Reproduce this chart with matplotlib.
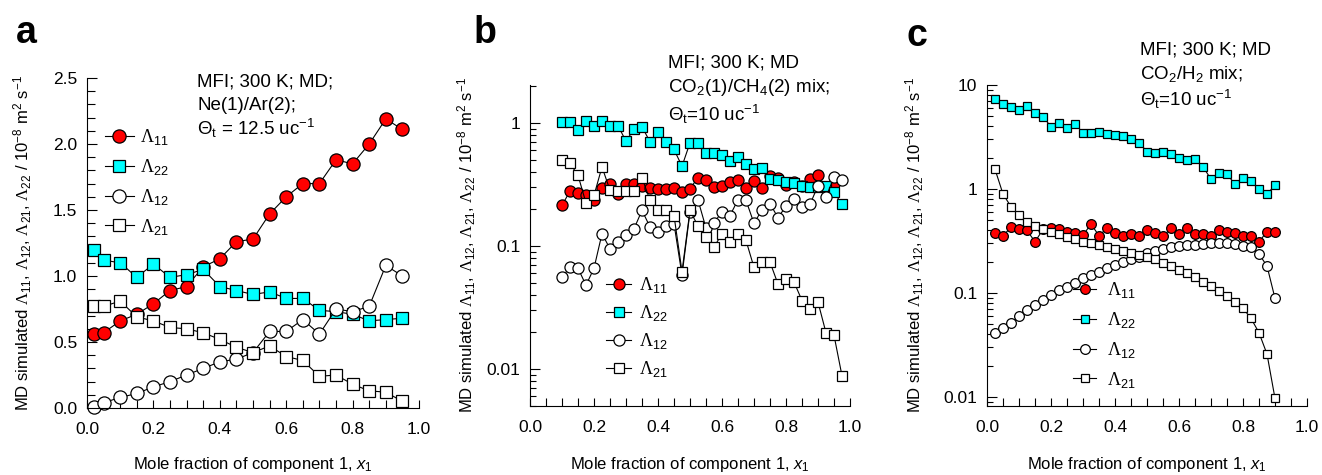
import numpy as np
import matplotlib
matplotlib.use("Agg")
import matplotlib.pyplot as plt
from matplotlib.ticker import MultipleLocator, LogLocator, NullFormatter, FuncFormatter

plt.rcParams['font.family'] = ['Liberation Sans', 'DejaVu Sans']
plt.rcParams['mathtext.fontset'] = 'custom'
plt.rcParams['mathtext.rm'] = 'Liberation Sans'
plt.rcParams['mathtext.it'] = 'Liberation Sans:italic'
plt.rcParams['mathtext.sf'] = 'Liberation Serif'

# ---- panel a: Ne(1)/Ar(2), linear scale
xa = [0.02, 0.05, 0.1, 0.15, 0.2, 0.25, 0.3, 0.35, 0.4, 0.45,
      0.5, 0.55, 0.6, 0.65, 0.7, 0.75, 0.8, 0.85, 0.9, 0.95]
a_L11 = [0.56, 0.57, 0.66, 0.71, 0.79, 0.89, 0.92, 1.07, 1.13, 1.26,
         1.28, 1.47, 1.60, 1.70, 1.70, 1.88, 1.85, 2.00, 2.19, 2.11]
a_L22 = [1.20, 1.12, 1.10, 0.99, 1.09, 0.99, 1.01, 1.05, 0.92, 0.89,
         0.86, 0.88, 0.83, 0.83, 0.74, 0.73, 0.71, 0.66, 0.67, 0.68]
a_L12 = [0.01, 0.04, 0.08, 0.11, 0.16, 0.20, 0.25, 0.30, 0.35, 0.37,
         0.42, 0.58, 0.58, 0.67, 0.56, 0.75, 0.73, 0.77, 1.08, 1.00]
a_L21 = [0.77, 0.77, 0.81, 0.69, 0.66, 0.61, 0.60, 0.57, 0.52, 0.46,
         0.42, 0.47, 0.39, 0.36, 0.24, 0.25, 0.18, 0.13, 0.12, 0.05]

# ---- panel b: CO2(1)/CH4(2), log scale
xb = [0.1, 0.125, 0.15, 0.175, 0.2, 0.225, 0.25, 0.275, 0.3, 0.325,
      0.35, 0.375, 0.4, 0.425, 0.45, 0.475, 0.5, 0.525, 0.55, 0.575,
      0.6, 0.625, 0.65, 0.675, 0.7, 0.725, 0.75, 0.775, 0.8, 0.825,
      0.85, 0.875, 0.9, 0.925, 0.95, 0.975]
b_L11 = [0.214, 0.28, 0.272, 0.258, 0.238, 0.299, 0.322, 0.267, 0.322, 0.322,
         0.306, 0.299, 0.293, 0.293, 0.299, 0.275, 0.293, 0.36, 0.347, 0.302,
         0.306, 0.332, 0.343, 0.299, 0.338, 0.299, 0.369, 0.36, 0.312, 0.33,
         0.31, 0.353, 0.376, 0.30, 0.318]
b_L22 = [1.025, 1.025, 0.877, 1.044, 0.951, 1.038, 0.951, 0.951, 0.713, 0.893,
         0.933, 0.704, 0.849, 0.704, 0.610, 0.446, 0.691, 0.691, 0.573, 0.573,
         0.555, 0.493, 0.525, 0.469, 0.427, 0.435, 0.353, 0.347, 0.332, 0.325,
         0.306, 0.302, 0.302, 0.306, 0.275, 0.218]
b_L12 = [0.056, 0.067, 0.066, 0.048, 0.066, 0.126, 0.095, 0.107, 0.122, 0.138,
         0.195, 0.143, 0.130, 0.145, 0.152, 0.058, 0.190, 0.237, 0.140, 0.155,
         0.189, 0.177, 0.238, 0.235, 0.153, 0.197, 0.221, 0.170, 0.211, 0.242,
         0.208, 0.218, 0.310, 0.250, 0.364, 0.347]
b_L21 = [0.505, 0.47, 0.376, 0.224, 0.258, 0.44, 0.284, 0.28, 0.28, 0.28,
         0.36, 0.235, 0.195, 0.195, 0.177, 0.062, 0.195, 0.145, 0.118, 0.098,
         0.126, 0.107, 0.126, 0.111, 0.067, 0.074, 0.074, 0.049, 0.054, 0.051,
         0.036, 0.031, 0.035, 0.0197, 0.0188, 0.0088]

# ---- panel c: CO2/H2, log scale
xc = [0.025, 0.05, 0.075, 0.1, 0.125, 0.15, 0.175, 0.2, 0.225, 0.25,
      0.275, 0.3, 0.325, 0.35, 0.375, 0.4, 0.425, 0.45, 0.475, 0.5,
      0.525, 0.55, 0.575, 0.6, 0.625, 0.65, 0.675, 0.7, 0.725, 0.75,
      0.775, 0.8, 0.825, 0.85, 0.875, 0.9]
c_L11 = [0.375, 0.356, 0.428, 0.409, 0.40, 0.311, 0.409, 0.419, 0.409, 0.389,
         0.38, 0.36, 0.46, 0.356, 0.419, 0.38, 0.356, 0.366, 0.35, 0.40,
         0.38, 0.35, 0.419, 0.37, 0.419, 0.37, 0.367, 0.35, 0.40, 0.389,
         0.38, 0.354, 0.35, 0.311, 0.389, 0.389]
c_L22 = [7.28, 6.56, 6.10, 5.75, 6.28, 5.35, 4.96, 3.97, 4.34, 3.83,
         4.22, 3.48, 3.43, 3.56, 3.38, 3.30, 3.23, 3.00, 2.79, 2.29,
         2.23, 2.29, 2.17, 1.97, 1.90, 1.93, 1.64, 1.24, 1.44, 1.38,
         1.12, 1.27, 1.20, 0.99, 0.89, 1.09]
c_L12 = [0.041, 0.0457, 0.0518, 0.060, 0.0687, 0.0767, 0.0858, 0.0957, 0.107, 0.115,
         0.126, 0.138, 0.149, 0.160, 0.173, 0.186, 0.200, 0.211, 0.224, 0.241,
         0.255, 0.263, 0.275, 0.283, 0.290, 0.290, 0.296, 0.300, 0.300, 0.300,
         0.296, 0.283, 0.275, 0.237, 0.182, 0.089]
c_L21 = [1.55, 0.895, 0.676, 0.562, 0.485, 0.441, 0.409, 0.389, 0.369, 0.343,
         0.328, 0.311, 0.300, 0.290, 0.275, 0.263, 0.255, 0.244, 0.232, 0.220,
         0.211, 0.195, 0.182, 0.166, 0.155, 0.144, 0.129, 0.117, 0.105, 0.0935,
         0.0826, 0.0713, 0.0571, 0.0415, 0.0259, 0.0097]

labels = [r'$\mathsf{\Lambda}_{11}$', r'$\mathsf{\Lambda}_{22}$',
          r'$\mathsf{\Lambda}_{12}$', r'$\mathsf{\Lambda}_{21}$']
styles = [('o', 'red'), ('s', 'cyan'), ('o', 'white'), ('s', 'white')]

ylab = (r'MD simulated $\mathsf{\Lambda}_{11}$, $\mathsf{\Lambda}_{12}$, '
        r'$\mathsf{\Lambda}_{21}$, $\mathsf{\Lambda}_{22}$ / 10$^{-8}$ m$^{2}$ s$^{-1}$')
xlab = r'Mole fraction of component 1, $x_{1}$'

W, H = 1322, 475
fig = plt.figure(figsize=(W / 100, H / 100), dpi=100)


def box(l, t, r, b):
    return [l / W, 1 - b / H, (r - l) / W, (b - t) / H]


def panel(ax, x, series, ms, log):
    for y, (mk, col), lab in zip(series, styles, labels):
        ax.plot(x[:len(y)], y, marker=mk, mfc=col, mec='black', mew=0.9,
                ms=ms if mk == 'o' else ms * 0.9, color='black', lw=0.8,
                label=lab, clip_on=False)
    for s in ['top', 'right']:
        ax.spines[s].set_visible(False)
    for s in ['left', 'bottom']:
        ax.spines[s].set_linewidth(0.8)
    ax.set_xlim(0, 1.0)
    ax.xaxis.set_major_locator(MultipleLocator(0.2))
    ax.xaxis.set_minor_locator(MultipleLocator(0.05))
    ax.xaxis.set_major_formatter(FuncFormatter(lambda v, p: '%.1f' % v))
    ax.tick_params(which='both', direction='in', labelsize=12.5, width=0.8)
    ax.tick_params(axis='x', which='major', length=6, pad=10)
    ax.tick_params(axis='x', which='minor', length=6)
    ax.tick_params(axis='y', which='major', length=7, pad=7)
    ax.tick_params(axis='y', which='minor', length=4)
    if log:
        ax.set_yscale('log')
        ax.yaxis.set_major_locator(LogLocator(base=10))
        ax.yaxis.set_minor_locator(LogLocator(base=10, subs=np.arange(2, 10)))
        ax.yaxis.set_minor_formatter(NullFormatter())
        ax.yaxis.set_major_formatter(FuncFormatter(lambda v, p: '%g' % v))
    ax.set_xlabel(xlab, fontsize=12, va='center')
    ax.set_ylabel(ylab, fontsize=12, va='center')


ax_a = fig.add_axes(box(87, 78, 419, 408))
panel(ax_a, xa, [a_L11, a_L22, a_L12, a_L21], 9.5, False)
ax_a.set_ylim(0, 2.5)
ax_a.yaxis.set_major_locator(MultipleLocator(0.5))
ax_a.yaxis.set_minor_locator(MultipleLocator(0.1))
ax_a.tick_params(axis='y', which='minor', length=6)
ax_a.xaxis.set_label_coords(0.5, (408 - 465) / 330)
ax_a.yaxis.set_label_coords((23 - 87) / 332, 0.5)
ax_a.legend(loc='upper left', bbox_to_anchor=(105 / W, 1 - 127 / H),
            bbox_transform=fig.transFigure, frameon=False, fontsize=13,
            handlelength=1.6, handletextpad=0.35, labelspacing=0.55,
            borderpad=0, borderaxespad=0)

ax_b = fig.add_axes(box(530, 85, 850, 406))
panel(ax_b, xb, [b_L11, b_L22, b_L12, b_L21], 8, True)
ax_b.set_ylim(0.005, 2.04)
ax_b.xaxis.set_label_coords(0.5, (406 - 465) / 321)
ax_b.yaxis.set_label_coords((467 - 530) / 320, 0.5)
ax_b.legend(loc='upper left', bbox_to_anchor=(606 / W, 1 - 275 / H),
            bbox_transform=fig.transFigure, frameon=False, fontsize=13,
            handlelength=1.4, handletextpad=0.45, labelspacing=0.45,
            borderpad=0, borderaxespad=0)

ax_c = fig.add_axes(box(987, 85, 1307, 406))
panel(ax_c, xc, [c_L11, c_L22, c_L12, c_L21], 7, True)
ax_c.set_ylim(0.0082, 10)
ax_c.xaxis.set_label_coords(0.5, (406 - 465) / 321)
ax_c.yaxis.set_label_coords((915 - 987) / 320, 0.5)
ax_c.legend(loc='upper left', bbox_to_anchor=(1073 / W, 1 - 280 / H),
            bbox_transform=fig.transFigure, frameon=False, fontsize=13,
            handlelength=1.3, handletextpad=0.6, labelspacing=0.55,
            borderpad=0, borderaxespad=0)

# panel letters
for lx, ly, s in [(16, 33, 'a'), (474, 33, 'b'), (907, 36, 'c')]:
    fig.text(lx / W, 1 - ly / H, s, fontsize=27, fontweight='bold', va='center')

# annotations
notes = [
    (197, [82, 105, 128], ['MFI; 300 K; MD;', 'Ne(1)/Ar(2);',
                           r'$\Theta_{\mathrm{t}}$ = 12.5 uc$^{-1}$']),
    (668, [63, 88, 114], ['MFI; 300 K; MD', r'CO$_{2}$(1)/CH$_{4}$(2) mix;',
                          r'$\Theta_{\mathrm{t}}$=10 uc$^{-1}$']),
    (1140, [50, 74, 99], ['MFI; 300 K; MD', r'CO$_{2}$/H$_{2}$ mix;',
                          r'$\Theta_{\mathrm{t}}$=10 uc$^{-1}$']),
]
for nx, ys, lines in notes:
    for ny, t in zip(ys, lines):
        fig.text(nx / W, 1 - ny / H, t, fontsize=13.5, va='center', ha='left')

fig.savefig('out.png', dpi=100)
